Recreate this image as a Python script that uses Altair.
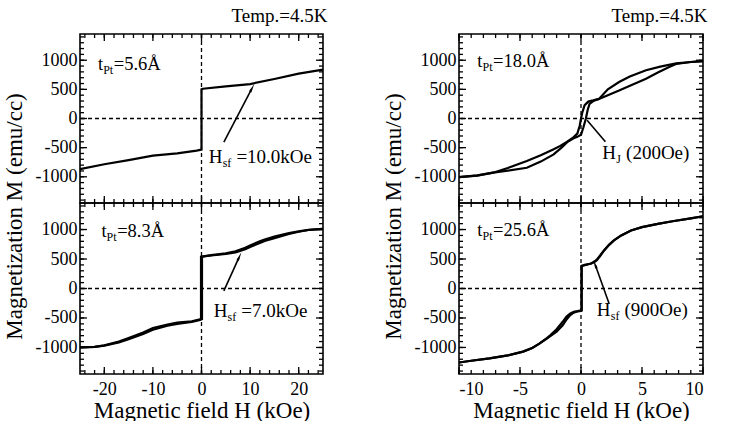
import altair as alt
import pandas as pd
import numpy as np

FONT = "Liberation Serif"

# ---------------- data ----------------
# panel A : tPt = 5.6 A   (x in kOe, M in emu/cc)
a_x = [-25, -20, -15, -10, -5, -1, 0, 0, 0.3, 5, 10, 15, 20, 25]
a_y = [-870, -785, -713, -638, -597, -551, -535, 500, 510, 551, 591, 678, 770, 840]

# panel B : tPt = 8.3 A  (ascending and descending branches)
b_up_x = [-25, -22, -20, -17, -15, -12, -10, -7, -5, -2, -0.3, 0.1, 0.1, 0.4, 2, 5, 7, 9, 10, 12, 13, 15, 18, 20, 22, 25]
b_up_y = [-1000, -990, -970, -915, -860, -770, -700, -630, -600, -565, -535, -520, 540, 545, 560, 585, 610, 665, 705, 770, 805, 855, 925, 962, 992, 1012]
b_dn_x = [25, 22, 20, 18, 15, 13, 12, 10, 9, 7, 5, 2, 0.4, -0.1, -0.1, -2, -5, -7, -10, -12, -15, -17, -20, -22, -25]
b_dn_y = [1012, 995, 970, 940, 880, 830, 800, 730, 690, 630, 595, 565, 545, 540, -520, -555, -580, -610, -670, -745, -840, -900, -965, -990, -1000]

# panel C : tPt = 18.0 A
c_up_x = [-10, -8.5, -7.2, -6, -4.44, -3.3, -2.24, -1.6, -1.13, -0.6, -0.3, 0, 0.2, 0.4, 0.55, 0.7, 1.0, 1.47, 2.2, 3.12, 4.2, 5.33, 6.3, 7.27, 7.8, 9, 10]
c_up_y = [-1005, -975, -930, -895, -845, -740, -615, -500, -405, -340, -315, -280, -150, 0, 150, 250, 300, 336, 400, 480, 580, 683, 790, 887, 935, 970, 985]
c_dn_x = [10, 9, 7.8, 6.5, 5.33, 4, 3.12, 2.2, 1.47, 1.0, 0.6, 0.3, 0.1, 0, -0.1, -0.3, -0.6, -1.13, -1.7, -2.24, -3.3, -4.44, -6, -7.2, -8.5, -10]
c_dn_y = [985, 970, 945, 890, 828, 720, 626, 500, 336, 310, 290, 230, 100, 0, -120, -260, -320, -397, -470, -529, -630, -730, -850, -930, -980, -1005]

# panel D : tPt = 25.6 A
d_up_x = [-10, -9, -7.5, -6, -4.75, -4, -3.4, -2.8, -2, -1.5, -1.2, -0.9, -0.6, -0.3, 0, 0.05, 0.05, 0.3, 0.8, 1.1, 1.3, 1.6, 1.9, 2.3, 2.7, 3.3, 4.1, 5, 6.3, 7.5, 9, 10]
d_up_y = [-1255, -1225, -1185, -1135, -1070, -1010, -935, -850, -730, -625, -530, -455, -410, -390, -380, -375, 380, 400, 420, 450, 480, 560, 646, 740, 815, 900, 983, 1040, 1095, 1140, 1190, 1225]
d_dn_x = [10, 9, 7.5, 6.3, 5, 4.1, 3.3, 2.7, 2.3, 1.9, 1.6, 1.3, 1.1, 0.8, 0.3, 0.05, 0.05, -0.3, -0.6, -0.9, -1.2, -1.5, -2, -2.5, -2.8, -3.4, -4, -4.75, -6, -7.5, -9, -10]
d_dn_y = [1225, 1190, 1140, 1095, 1040, 983, 900, 815, 740, 650, 570, 490, 455, 425, 395, 385, -370, -385, -395, -425, -480, -565, -690, -790, -840, -930, -1010, -1070, -1135, -1185, -1225, -1255]

# annotations: thickness labels, field labels, arrows
t_labels = ["5.6Å", "8.3Å", "18.0Å", "25.6Å"]
t_pos_x = [-21.3, -20.6, -8.5, -8.5]
t_pos_y = [930, 975, 990, 985]

h_main = ["H", "H", "H", "H"]
h_sub = ["sf", "sf", "J", "sf"]
h_rest = ["=10.0kOe", "=7.0kOe", "(200Oe)", "(900Oe)"]
h_pos_x = [1.5, 2.5, 1.75, 1.3]
h_pos_y = [-655, -376, -590, -370]

arrow_x0 = [4.6, 4.6, 0.5, 2.3]
arrow_y0 = [-405, -40, -30, -253]
arrow_x1 = [10.3, 7.7, 2.0, 1.18]
arrow_y1 = [504, 523, -400, 393]
arrow_head = [True, True, False, True]

y_ticks = [-1000, -500, 0, 500, 1000]
y_minor = [v for v in range(-1400, 1401, 100)]
left_x_ticks = [-20, -10, 0, 10, 20]
left_x_minor = [v for v in range(-24, 25, 2)]
right_x_ticks = [-10, -5, 0, 5, 10]
right_x_minor = [v for v in range(-10, 11, 1)]

YDOM = [-1450, 1450]
H_TOP = 169
H_BOT = 171


def branches(*pairs):
    frames = []
    for k, (xs, ys) in enumerate(pairs):
        frames.append(pd.DataFrame({"x": xs, "y": ys, "b": k, "i": range(len(xs))}))
    return pd.concat(frames, ignore_index=True)


def panel(idx, lines, xdom, xmaj, xmin_, W, height, bottom, temp_title):
    xs = alt.Scale(domain=xdom, nice=False, zero=False)
    ys = alt.Scale(domain=YDOM, nice=False, zero=False)
    if bottom:
        xaxis = alt.Axis(values=xmaj, title="Magnetic field H (kOe)", labelExpr="'' + datum.value",
                         labelPadding=6, titlePadding=1)
        yaxis = alt.Axis(values=y_ticks, title=None, labelExpr="'' + datum.value")
    else:
        xaxis = None
        yaxis = alt.Axis(values=y_ticks, title="Magnetization  M (emu/cc)", labelExpr="'' + datum.value",
                         titleY=182, titlePadding=9)

    X = lambda f="x:Q": alt.X(f, scale=xs, axis=xaxis)
    Y = lambda f="y:Q": alt.Y(f, scale=ys, axis=yaxis)

    base_line = alt.Chart(lines).mark_line(color="black", strokeWidth=2.2).encode(
        x=X(), y=Y(), detail="b:N", order="i:Q")

    zero_h = alt.Chart(pd.DataFrame({"y": [0]})).mark_rule(
        color="black", strokeDash=[4, 3], strokeWidth=1.3).encode(y=Y())
    zero_v = alt.Chart(pd.DataFrame({"x": [0]})).mark_rule(
        color="black", strokeDash=[4, 3], strokeWidth=1.3).encode(x=X())

    xt_major = pd.DataFrame({"x": xmaj})
    xt_minor = pd.DataFrame({"x": xmin_})
    yt_major = pd.DataFrame({"y": y_ticks})
    yt_minor = pd.DataFrame({"y": y_minor})

    tick_layers = []
    for df, ln in ((xt_major, 7), (xt_minor, 4)):
        for y0, y1 in ((height, height - ln), (0, ln)):
            tick_layers.append(alt.Chart(df).mark_rule(color="black", strokeWidth=1.3).encode(
                x=X(), y=alt.value(y0), y2=alt.value(y1)))
    for df, ln in ((yt_major, 7), (yt_minor, 4)):
        for x0, x1 in ((0, ln), (W, W - ln)):
            tick_layers.append(alt.Chart(df).mark_rule(color="black", strokeWidth=1.3).encode(
                y=Y(), x=alt.value(x0), x2=alt.value(x1)))

    # thickness label t_Pt = ...
    tdf = pd.DataFrame({"x": [t_pos_x[idx]], "y": [t_pos_y[idx]],
                        "a": ["t"], "s": ["Pt"], "r": ["=" + t_labels[idx]]})
    t1 = alt.Chart(tdf).mark_text(font=FONT, fontSize=18.5, align="left", baseline="middle").encode(
        x=X(), y=Y(), text="a:N")
    t2 = alt.Chart(tdf).mark_text(font=FONT, fontSize=12, align="left", baseline="middle", dx=5.2, dy=6).encode(
        x=X(), y=Y(), text="s:N")
    t3 = alt.Chart(tdf).mark_text(font=FONT, fontSize=18.5, align="left", baseline="middle", dx=15.8).encode(
        x=X(), y=Y(), text="r:N")

    # field label H_xx ...
    hdf = pd.DataFrame({"x": [h_pos_x[idx]], "y": [h_pos_y[idx]],
                        "a": [h_main[idx]], "s": [h_sub[idx]], "r": [h_rest[idx]]})
    sub_w = 8.7 if h_sub[idx] == "sf" else 4.8
    h1 = alt.Chart(hdf).mark_text(font=FONT, fontSize=19, align="left", baseline="middle").encode(
        x=X(), y=Y(), text="a:N")
    h2 = alt.Chart(hdf).mark_text(font=FONT, fontSize=12, align="left", baseline="middle", dx=13.9, dy=6).encode(
        x=X(), y=Y(), text="s:N")
    h3 = alt.Chart(hdf).mark_text(font=FONT, fontSize=19, align="left", baseline="middle", dx=13.9 + sub_w + 5).encode(
        x=X(), y=Y(), text="r:N")

    adf = pd.DataFrame({"x": [arrow_x0[idx]], "y": [arrow_y0[idx]],
                        "x2": [arrow_x1[idx]], "y2": [arrow_y1[idx]]})
    shaft = alt.Chart(adf).mark_rule(color="black", strokeWidth=1.6).encode(
        x=X(), y=Y(), x2="x2:Q", y2="y2:Q")
    layers = [zero_h, zero_v] + tick_layers + [base_line, shaft, t1, t2, t3, h1, h2, h3]
    if arrow_head[idx]:
        ppx = W / (xdom[1] - xdom[0])
        ppy = height / (YDOM[1] - YDOM[0])
        dxp = (arrow_x1[idx] - arrow_x0[idx]) * ppx
        dyp = (arrow_y1[idx] - arrow_y0[idx]) * ppy
        ang = float(np.degrees(np.arctan2(dxp, dyp))) % 360
        hd = pd.DataFrame({"x": [arrow_x1[idx]], "y": [arrow_y1[idx]]})
        head = alt.Chart(hd).mark_point(shape="wedge", filled=True, color="black", size=110,
                                        opacity=1, angle=ang).encode(x=X(), y=Y())
        layers.append(head)

    ch = alt.layer(*layers).properties(width=W, height=height)
    if temp_title:
        ch = ch.properties(title=alt.TitleParams("Temp.=4.5K", anchor="end", font=FONT, fontSize=19,
                                                 fontWeight="normal", color="black", offset=7))
    return ch


dfA = branches((a_x, a_y))
dfB = branches((b_up_x, b_up_y), (b_dn_x, b_dn_y))
dfC = branches((c_up_x, c_up_y), (c_dn_x, c_dn_y))
dfD = branches((d_up_x, d_up_y), (d_dn_x, d_dn_y))

left = alt.vconcat(
    panel(0, dfA, [-25, 25], left_x_ticks, left_x_minor, 243, H_TOP, False, True),
    panel(1, dfB, [-25, 25], left_x_ticks, left_x_minor, 243, H_BOT, True, False),
    spacing=0, bounds="flush")
right = alt.vconcat(
    panel(2, dfC, [-10, 10], right_x_ticks, right_x_minor, 244, H_TOP, False, True),
    panel(3, dfD, [-10, 10], right_x_ticks, right_x_minor, 244, H_BOT, True, False),
    spacing=0, bounds="flush")

chart = alt.hconcat(left, right, spacing=379, bounds="flush").properties(
    padding={"left": 2, "top": 6, "right": 2, "bottom": 2},
    background="white"
).configure_view(
    stroke="black", strokeWidth=1.6
).configure_axis(
    labelFont=FONT, labelFontSize=18, labelColor="black",
    titleFont=FONT, titleFontSize=23, titleColor="black", titleFontWeight="normal",
    ticks=False, domain=False, grid=False, labelPadding=3
)

chart.save("out.html", embed_options={"renderer": "svg", "actions": False})
